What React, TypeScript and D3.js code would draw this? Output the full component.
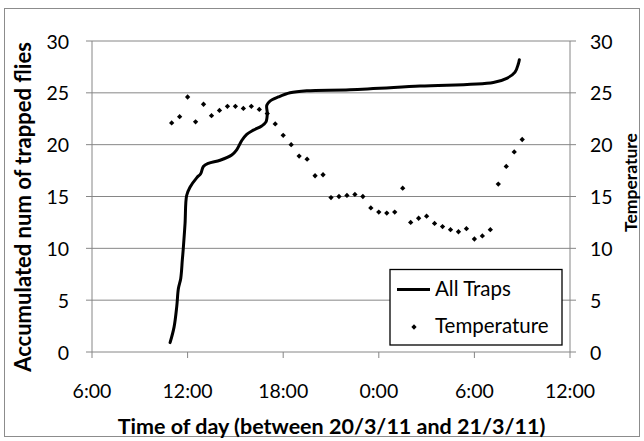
import { useEffect } from 'react';
import * as d3 from 'd3';

// cumulative trap catch, hours counted from 0:00 on 20/3/11
const trapHours = [10.9, 11.15, 11.32, 11.42, 11.57, 11.67, 11.73, 11.84, 11.94, 12.15, 12.57, 12.82, 12.99, 13.3, 14.04, 14.77, 15.08, 15.4, 15.71, 16.13, 16.65, 16.92, 17.0, 16.97, 17.17, 17.7, 18.43, 19.48, 22.19, 26.59, 31.19, 32.03, 32.55, 32.76, 32.82];
const trapCounts = [0.9, 2.4, 4.4, 6.1, 7.1, 8.9, 10.0, 12.4, 15.1, 15.9, 16.8, 17.2, 17.9, 18.2, 18.5, 19.0, 19.5, 20.4, 21.0, 21.4, 21.8, 22.2, 23.0, 23.8, 24.2, 24.6, 25.0, 25.2, 25.3, 25.65, 26.0, 26.4, 27.0, 27.8, 28.2];

// half-hourly temperature readings starting 11:00 on 20/3/11
const tempStartHour = 11;
const tempStepHours = 0.5;
const temps = [22.1, 22.7, 24.6, 22.2, 23.9, 22.8, 23.3, 23.7, 23.7, 23.5, 23.7, 23.4, 23.0, 22.0, 20.9, 20.0, 18.9, 18.6, 17.0, 17.1, 14.9, 15.0, 15.1, 15.2, 15.0, 13.9, 13.5, 13.4, 13.5, 15.8, 12.5, 12.9, 13.1, 12.4, 12.1, 11.8, 11.6, 11.9, 10.9, 11.2, 11.8, 16.2, 17.9, 19.3, 20.5];

const yTicks = [0, 5, 10, 15, 20, 25, 30];
const seriesNames = ['All Traps', 'Temperature'];

const day0 = new Date(2011, 2, 20, 0, 0);
const atHour = (h: number) => new Date(day0.getTime() + h * 3600000);

const W = 644;
const H = 441;
const left = 92, right = 570, top = 41, bottom = 352;
const font = "Lato, 'Open Sans', sans-serif";
const grid = '#868686';
const tickSize = 19.5;

export default function App() {
  useEffect(() => {
    document.body.style.margin = '0';
  }, []);

  const x = d3.scaleTime().domain([atHour(6), atHour(36)]).range([left, right]);
  const yL = d3.scaleLinear().domain([0, 30]).range([bottom, top]);
  const yR = d3.scaleLinear().domain([0, 30]).range([bottom, top]);
  const xTicks = x.ticks(d3.timeHour.every(6));
  const fmt = d3.timeFormat('%-H:%M');

  const trapData = trapHours.map((h, i) => ({ t: atHour(h), v: trapCounts[i] }));
  const tempData = temps.map((v, i) => ({ t: atHour(tempStartHour + i * tempStepHours), v }));

  const line = d3.line<{ t: Date; v: number }>()
    .x((d) => x(d.t))
    .y((d) => yL(d.v))
    .curve(d3.curveCatmullRom.alpha(0.5));

  const diamond = d3.symbol().type(d3.symbolSquare).size(14)();

  return (
    <svg width={W} height={H} style={{ display: 'block' }} fontFamily={font}>
      <rect x={4.5} y={8.5} width={635} height={428} fill="white" stroke="#8c8c8c" />

      {/* gridlines and axes */}
      {yTicks.map((t) => (
        <g key={'g' + t}>
          <line x1={left - 6} x2={right + 6} y1={yL(t)} y2={yL(t)} stroke={grid} />
          <text x={69} y={yL(t) + 7.5} textAnchor="end" fontSize={tickSize}>{t}</text>
          <text x={590} y={yR(t) + 7.5} fontSize={tickSize}>{t}</text>
        </g>
      ))}
      <line x1={left} x2={left} y1={top} y2={bottom} stroke={grid} />
      <line x1={right} x2={right} y1={top} y2={bottom} stroke={grid} />
      {xTicks.map((t, i) => (
        <g key={'x' + i}>
          <line x1={x(t)} x2={x(t)} y1={bottom} y2={bottom + 6} stroke={grid} />
          <text x={x(t)} y={398} textAnchor="middle" fontSize={tickSize}>{fmt(t)}</text>
        </g>
      ))}

      {/* temperature markers */}
      {tempData.map((d, i) => (
        <path key={'m' + i} d={diamond!} transform={`translate(${x(d.t)},${yR(d.v)}) rotate(45)`} fill="black" />
      ))}

      {/* cumulative catch line */}
      <path d={line(trapData)!} fill="none" stroke="black" strokeWidth={3} strokeLinejoin="round" strokeLinecap="round" />

      {/* axis titles */}
      <text x={331.5} y={434} textAnchor="middle" fontSize={21.5} fontWeight="bold">
        Time of day (between 20/3/11 and 21/3/11)
      </text>
      <text transform="translate(31,207) rotate(-90)" textAnchor="middle" fontSize={22} fontWeight="bold">
        Accumulated num of trapped flies
      </text>
      <text transform="translate(637,182.5) rotate(-90)" textAnchor="middle" fontSize={17.5} fontWeight="bold">
        Temperature
      </text>

      {/* legend */}
      <rect x={390} y={269.5} width={172} height={75.5} fill="white" stroke="black" strokeWidth={1.3} />
      <line x1={397} x2={430} y1={289.5} y2={289.5} stroke="black" strokeWidth={3} />
      <text x={435} y={296} fontSize={20.5}>{seriesNames[0]}</text>
      <path d={diamond!} transform="translate(414,327) rotate(45)" fill="black" />
      <text x={435} y={333} fontSize={20.5}>{seriesNames[1]}</text>
    </svg>
  );
}
